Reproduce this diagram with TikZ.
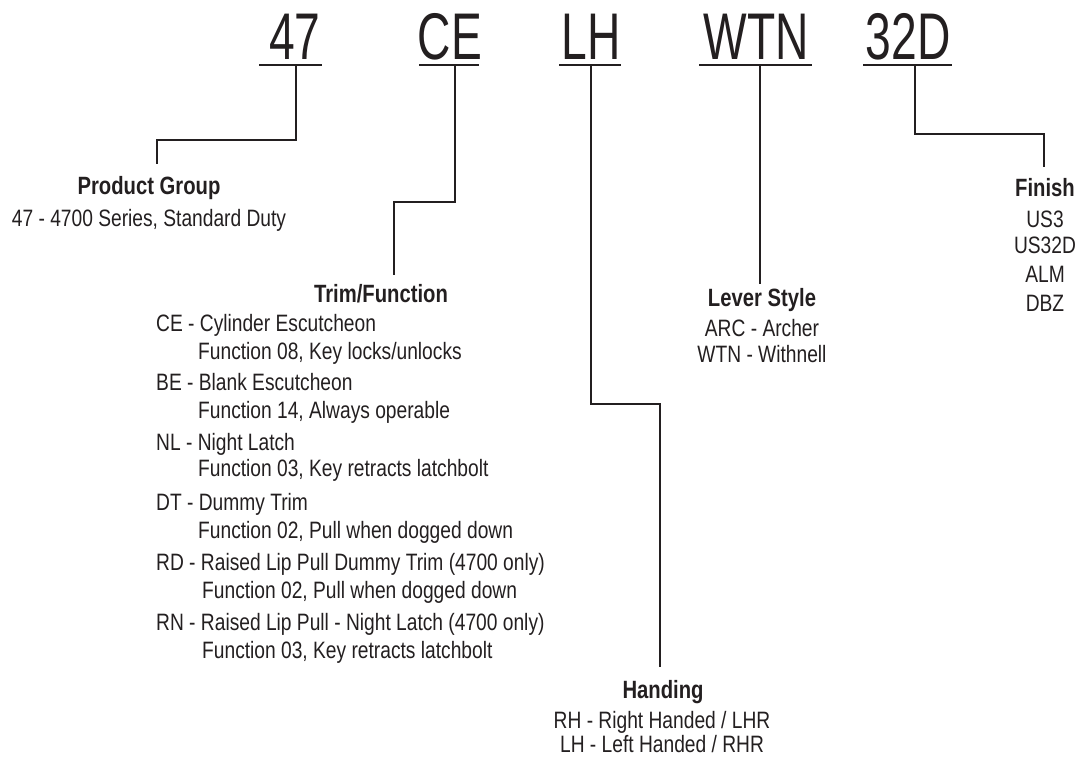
\documentclass[tikz,border=0pt]{standalone}
\usepackage{fontspec}
\setmainfont[FakeStretch=0.81]{Liberation Sans}
\newfontfamily\codefont[FakeStretch=0.70]{Liberation Sans}
\definecolor{ink}{HTML}{231F20}
\begin{document}
\begin{tikzpicture}[x=1pt,y=-1pt,
  code/.style={anchor=base,inner sep=0pt,text=ink,font=\codefont\fontsize{66}{70}\selectfont},
  title/.style={anchor=base,inner sep=0pt,text=ink,font=\bfseries\fontsize{25}{28}\selectfont},
  body/.style={anchor=base,inner sep=0pt,text=ink,font=\fontsize{23.7}{28}\selectfont},
  bodyl/.style={body,anchor=base west},
  uline/.style={draw=ink,line width=1.7pt},
  conn/.style={draw=ink,line width=2pt,line cap=rect,line join=miter}]
\useasboundingbox (0,0) rectangle (1077,759);
% codes
\node[code] (c47) at (295,60) {47};
\node[code] (cCE) at (450,60) {CE};
\node[code] (cLH) at (591,60) {LH};
\node[code] (cWTN) at (756,60) {WTN};
\node[code] (c32D) at (908,60) {32D};
% underlines
\coordinate (u47a) at (259,65); \coordinate (u47b) at (322,65);
\coordinate (uCEa) at (419,65); \coordinate (uCEb) at (479,65);
\coordinate (uLHa) at (559,65); \coordinate (uLHb) at (621,65);
\coordinate (uWTNa) at (699,65); \coordinate (uWTNb) at (812,65);
\coordinate (u32Da) at (863,65); \coordinate (u32Db) at (952,65);
\path[uline] (u47a) -- (u47b);
\path[uline] (uCEa) -- (uCEb);
\path[uline] (uLHa) -- (uLHb);
\path[uline] (uWTNa) -- (uWTNb);
\path[uline] (u32Da) -- (u32Db);
% Product group
\node[title] (pg) at (149,195) {Product Group};
\node[body] (pg1) at (149,227) {47 - 4700 Series, Standard Duty};
% Trim/Function
\node[title] (tf) at (381,303) {Trim/Function};
\node[bodyl] (t1) at (156,331.7) {CE - Cylinder Escutcheon};
\node[bodyl] (t2) at (198,359.3) {Function 08, Key locks/unlocks};
\node[bodyl] (t3) at (156,390.7) {BE - Blank Escutcheon};
\node[bodyl] (t4) at (198,418.3) {Function 14, Always operable};
\node[bodyl] (t5) at (156,450) {NL - Night Latch};
\node[bodyl] (t6) at (198,476.7) {Function 03, Key retracts latchbolt};
\node[bodyl] (t7) at (156,510) {DT - Dummy Trim};
\node[bodyl] (t8) at (198,538.3) {Function 02, Pull when dogged down};
\node[bodyl] (t9) at (156,570) {RD - Raised Lip Pull Dummy Trim (4700 only)};
\node[bodyl] (t10) at (202,598.3) {Function 02, Pull when dogged down};
\node[bodyl] (t11) at (156,630) {RN - Raised Lip Pull - Night Latch (4700 only)};
\node[bodyl] (t12) at (202,658.3) {Function 03, Key retracts latchbolt};
% Lever style
\node[title] (ls) at (762,307) {Lever Style};
\node[body] (ls1) at (762,337) {ARC - Archer};
\node[body] (ls2) at (762,363) {WTN - Withnell};
% Finish
\node[title] (fi) at (1045,197) {Finish};
\node[body] (f1) at (1045,228) {US3};
\node[body] (f2) at (1045,254) {US32D};
\node[body] (f3) at (1045,283) {ALM};
\node[body] (f4) at (1045,312) {DBZ};
% Handing
\node[title] (ha) at (663,698) {Handing};
\node[body] (h1) at (662,728) {RH - Right Handed / LHR};
\node[body] (h2) at (662,752) {LH - Left Handed / RHR};
% connectors
\coordinate (s47) at (296,65); \coordinate (e47) at (157,163);
\draw[conn] (s47) |- (157,140) -- (e47);
\coordinate (sCE) at (455,65); \coordinate (eCE) at (394,274);
\draw[conn] (sCE) |- (394,202) -- (eCE);
\coordinate (sLH) at (591,65); \coordinate (eLH) at (660,666);
\draw[conn] (sLH) |- (660,404) -- (eLH);
\coordinate (sWTN) at (760,65); \coordinate (eWTN) at (760,283);
\draw[conn] (sWTN) -- (eWTN);
\coordinate (s32D) at (915,65); \coordinate (e32D) at (1044,166);
\draw[conn] (s32D) |- (1044,134) -- (e32D);
\end{tikzpicture}
\end{document}
